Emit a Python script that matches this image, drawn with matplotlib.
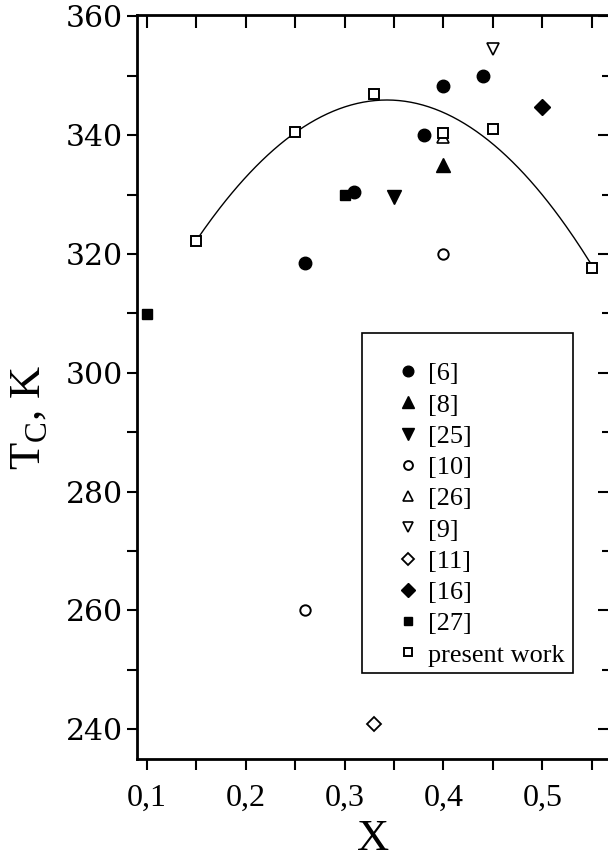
import numpy as np
import matplotlib
matplotlib.use("Agg")
import matplotlib.pyplot as plt
from matplotlib.ticker import MultipleLocator, FixedLocator
from matplotlib.patches import Rectangle

plt.rcParams['font.family'] = ['Liberation Serif', 'DejaVu Serif']
plt.rcParams['mathtext.fontset'] = 'custom'
plt.rcParams['mathtext.rm'] = 'Liberation Serif'

# ---- data ----
ref6_x = [0.26, 0.31, 0.38, 0.40, 0.44]
ref6_y = [318.5, 330.5, 340.0, 348.3, 350.0]
ref8_x = [0.40]
ref8_y = [335.0]
ref25_x = [0.35]
ref25_y = [329.6]
ref10_x = [0.26, 0.40]
ref10_y = [260.1, 320.0]
ref26_x = [0.40]
ref26_y = [339.7]
ref9_x = [0.45]
ref9_y = [354.5]
ref11_x = [0.33]
ref11_y = [240.9]
ref16_x = [0.50]
ref16_y = [344.8]
ref27_x = [0.10, 0.30]
ref27_y = [309.9, 330.0]
present_x = [0.15, 0.25, 0.33, 0.40, 0.45, 0.55]
present_y = [322.1, 340.6, 346.9, 340.4, 341.1, 317.7]

x_ticks = [0.1, 0.2, 0.3, 0.4, 0.5]
x_ticklabels = ['0,1', '0,2', '0,3', '0,4', '0,5']
y_ticks = [240, 260, 280, 300, 320, 340, 360]

fig = plt.figure(figsize=(6.08, 8.63), dpi=100)
ax = fig.add_axes([0.2253, 0.1205, 0.7775, 0.862])

# fitted curve through present work
coef = np.polyfit(present_x, present_y, 3)
xf = np.linspace(min(present_x), max(present_x), 200)
ax.plot(xf, np.polyval(coef, xf), color='black', lw=1.0, zorder=1)

k = dict(linestyle='none', color='black')
ax.plot(ref6_x, ref6_y, marker='o', ms=9, mfc='black', label='[6]', **k)
ax.plot(ref8_x, ref8_y, marker='^', ms=10, mfc='black', label='[8]', **k)
ax.plot(ref25_x, ref25_y, marker='v', ms=10, mfc='black', label='[25]', **k)
ax.plot(ref10_x, ref10_y, marker='o', ms=7.5, mfc='white', mew=1.4, label='[10]', **k)
ax.plot(ref26_x, ref26_y, marker='^', ms=9, mfc='none', mew=1.2, label='[26]', **k)
ax.plot(ref9_x, ref9_y, marker='v', ms=9, mfc='white', mew=1.2, label='[9]', **k)
ax.plot(ref11_x, ref11_y, marker='D', ms=7, mfc='white', mew=1.3, label='[11]', **k)
ax.plot(ref16_x, ref16_y, marker='D', ms=8, mfc='black', label='[16]', **k)
ax.plot(ref27_x, ref27_y, marker='s', ms=7, mfc='black', label='[27]', **k)
ax.plot(present_x, present_y, marker='s', ms=7, mfc='white', mew=1.4, label='present work', **k)

ax.set_xlim(0.0902, 0.568)
ax.set_ylim(235.0, 360.2)

ax.xaxis.set_major_locator(FixedLocator(x_ticks))
ax.set_xticklabels(x_ticklabels, fontsize=23, family='Liberation Serif')
ax.xaxis.set_minor_locator(MultipleLocator(0.05))
ax.yaxis.set_major_locator(FixedLocator(y_ticks))
ax.set_yticklabels([str(v) for v in y_ticks], fontsize=21.5, family='DejaVu Serif')
ax.yaxis.set_minor_locator(MultipleLocator(10))

ax.tick_params(which='both', width=1.5, colors='black')
ax.tick_params(axis='x', which='both', direction='out', length=8, pad=10)
ax.tick_params(axis='y', which='both', direction='out', length=7, pad=3)
for s in ['left', 'bottom', 'top']:
    ax.spines[s].set_linewidth(2.0)
ax.spines['right'].set_visible(False)

ax2 = ax.twiny()
ax2.set_xlim(ax.get_xlim())
ax2.xaxis.set_major_locator(FixedLocator(x_ticks))
ax2.xaxis.set_minor_locator(MultipleLocator(0.05))
ax2.tick_params(which='both', direction='in', length=9, width=1.5, labeltop=False)
ax3 = ax.twinx()
ax3.set_ylim(ax.get_ylim())
ax3.yaxis.set_major_locator(FixedLocator(y_ticks))
ax3.yaxis.set_minor_locator(MultipleLocator(10))
ax3.tick_params(which='major', direction='in', length=9, width=1.5, labelright=False)
ax3.tick_params(which='minor', direction='in', length=6, width=1.5, labelright=False)
for a in (ax2, ax3):
    for s in a.spines.values():
        s.set_visible(False)
ax.tick_params(top=False, right=False, which='both')

ax.set_xlabel('X', fontsize=32, labelpad=4)
ax.set_ylabel(r'T$_\mathregular{C}$, K', fontsize=32)
ax.yaxis.set_label_coords(-0.183, 0.46)

# legend frame
ax.add_patch(Rectangle((0.477, 0.1156), 0.446, 0.4574, transform=ax.transAxes,
                       facecolor='white', edgecolor='black', lw=1.2, zorder=4))
leg = ax.legend(loc='upper left', bbox_to_anchor=(0.545, 0.5336),
                fontsize=18.9, frameon=False, borderpad=0.0, labelspacing=0.30,
                handlelength=1.0, handletextpad=0.27, borderaxespad=0.0,
                markerscale=0.85)
leg.set_zorder(5)

fig.savefig('out.png', dpi=100)
